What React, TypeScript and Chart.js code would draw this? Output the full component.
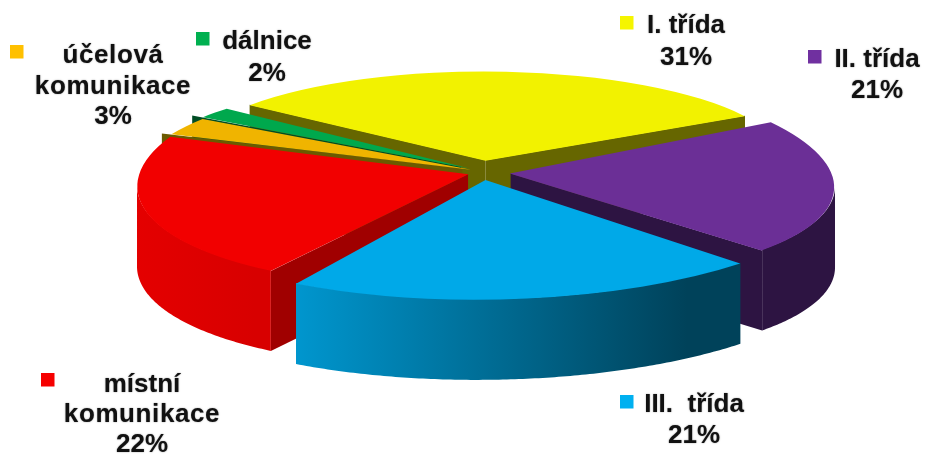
import React, { useEffect, useRef } from "react";
import { Chart, registerables } from "chart.js";

Chart.register(...registerables);

const categories = ["I. třída", "II. třída", "III. třída", "místní komunikace", "účelová komunikace", "dálnice"];
const values = [31, 21, 21, 22, 3, 2];

const topColors = ["#F2F200", "#6B2F96", "#00A9E8", "#F20000", "#F0B400", "#00A84D"];
const markerColors = ["#F5F500", "#7030A0", "#00B0F0", "#F60000", "#FFC000", "#00B050"];
const cutColors = ["#666600", "#2D1442", "#004A64", "#A00000", "#6B5A00", "#004D24"];
const wallLeft = ["#666600", "#2D1442", "#0096CE", "#E40000", "#6B5A00", "#004D24"];
const wallRight = ["#666600", "#2D1442", "#00425A", "#D80000", "#6B5A00", "#004D24"];
const explode = [72, 64, 68, 40, 30, 34];
const drawOrder = [0, 5, 4, 1, 3, 2];

// label layout: lines, centre x, baselines, marker box, letter spacing
const labelLayout = [
  { lines: ["I. třída", "31%"], x: 686, y: [33, 65], mx: 620, my: 16, sp: [0, 0] },
  { lines: ["II. třída", "21%"], x: 877, y: [67, 98], mx: 808, my: 50, sp: [0, 0] },
  { lines: ["III.  třída", "21%"], x: 694, y: [412, 443], mx: 620, my: 395, sp: [0, 0] },
  { lines: ["místní", "komunikace", "22%"], x: 142, y: [392, 422, 452], mx: 41, my: 373, sp: [0, 0.6, 0] },
  { lines: ["účelová", "komunikace", "3%"], x: 113, y: [63, 94, 124], mx: 10, my: 45, sp: [0.6, 0.6, 0] },
  { lines: ["dálnice", "2%"], x: 267, y: [49, 81], mx: 196, my: 32, sp: [0, 0] },
];

// camera of the tilted disc
const VIEW = { cx: 483, cy: 171.5, ax: 323, sx: -25, ay: 102, sy: 7.5, persp: 0.129, depth: 80 };

function project(X: number, Y: number) {
  const w = 1 - VIEW.persp * Y;
  return {
    x: VIEW.cx + (VIEW.ax * X + VIEW.sx * Y) / w,
    y: VIEW.cy + (VIEW.sy * X + VIEW.ay * Y) / w,
  };
}

function solve3(A: number[][], b: number[]) {
  const M = A.map((row, i) => [...row, b[i]]);
  for (let c = 0; c < 3; c++) {
    let piv = c;
    for (let r = c + 1; r < 3; r++) if (Math.abs(M[r][c]) > Math.abs(M[piv][c])) piv = r;
    [M[c], M[piv]] = [M[piv], M[c]];
    for (let r = 0; r < 3; r++) {
      if (r === c) continue;
      const f = M[r][c] / M[c][c];
      for (let k = c; k < 4; k++) M[r][k] -= f * M[c][k];
    }
  }
  return [M[0][3] / M[0][0], M[1][3] / M[1][1], M[2][3] / M[2][2]];
}

// least-squares affine map between the slice's chart-space points and their projection
function fitAffine(src: any[], dst: any[]) {
  const A = [[0, 0, 0], [0, 0, 0], [0, 0, 0]];
  const bx = [0, 0, 0];
  const by = [0, 0, 0];
  src.forEach((p, n) => {
    const v = [p.x, p.y, 1];
    for (let r = 0; r < 3; r++) {
      for (let c = 0; c < 3; c++) A[r][c] += v[r] * v[c];
      bx[r] += v[r] * dst[n].x;
      by[r] += v[r] * dst[n].y;
    }
  });
  const [a, c, e] = solve3(A, bx);
  const [b, d, f] = solve3(A, by);
  return { a, b, c, d, e, f };
}

const pie3dPlugin = {
  id: "pie3d",
  beforeDatasetDraw(chart: any, args: any) {
    const ctx = chart.ctx;
    const meta = chart.getDatasetMeta(args.index);
    for (const i of drawOrder) {
      const el = meta.data[i];
      const { x, y, startAngle, endAngle, outerRadius: r, circumference } = el;
      const off = (el.options.offset || 0) / 4;
      const fix = 1 - Math.sin(Math.min(Math.PI, circumference));
      const mid = (startAngle + endAngle) / 2;
      const shift = off * (1 + fix);
      const R = r + off * fix;
      const ox = x + Math.cos(mid) * shift;
      const oy = y + Math.sin(mid) * shift;
      const at = (t: number) => ({ x: ox + Math.cos(t) * R, y: oy + Math.sin(t) * R });
      const toScreen = (p: any) => project((p.x - x) / r, (p.y - y) / r);

      const tipW = { x: ox, y: oy };
      const src = [tipW, at(startAngle), at(mid), at(endAngle)];
      const m = fitAffine(src, src.map(toScreen));
      const map = (p: any) => ({ x: m.a * p.x + m.c * p.y + m.e, y: m.b * p.x + m.d * p.y + m.f });

      const D = VIEW.depth;
      const tip = map(tipW);
      const s0 = map(at(startAngle));
      const s1 = map(at(endAngle));
      const rimMid = map(at(mid));
      const face = (p: any, q: any, other: any) => {
        // only edges with the slice's top lying above them show a cut face
        const lineY = p.y + ((q.y - p.y) * (other.x - p.x)) / (q.x - p.x);
        if (other.y > lineY) return;
        ctx.beginPath();
        ctx.moveTo(p.x, p.y);
        ctx.lineTo(q.x, q.y);
        ctx.lineTo(q.x, q.y + D);
        ctx.lineTo(p.x, p.y + D);
        ctx.closePath();
        ctx.fillStyle = cutColors[i];
        ctx.fill();
      };
      face(tip, s0, rimMid);
      face(tip, s1, rimMid);

      // outer wall: the part of the rim that runs leftwards on screen faces the viewer
      const rim: any[] = [];
      const steps = 120;
      const span = endAngle - startAngle;
      for (let k = 0; k <= steps; k++) {
        const t = startAngle + (span * k) / steps;
        if (map(at(t + 0.001)).x < map(at(t)).x) rim.push(map(at(t)));
      }
      if (rim.length > 1) {
        const xs = rim.map((p) => p.x);
        const grad = ctx.createLinearGradient(Math.min(...xs), 0, Math.max(...xs), 0);
        grad.addColorStop(0, wallLeft[i]);
        grad.addColorStop(0.88, wallRight[i]);
        grad.addColorStop(1, wallRight[i]);
        ctx.beginPath();
        // the upper edge runs 1px under the top face so no seam shows
        rim.forEach((p, k) => (k ? ctx.lineTo(p.x, p.y - 1) : ctx.moveTo(p.x, p.y - 1)));
        for (let k = rim.length - 1; k >= 0; k--) ctx.lineTo(rim[k].x, rim[k].y + D);
        ctx.closePath();
        ctx.fillStyle = grad;
        ctx.fill();
      }

      ctx.save();
      ctx.transform(m.a, m.b, m.c, m.d, m.e, m.f);
      el.draw(ctx);
      ctx.restore();
    }
    return false;
  },
  afterDatasetsDraw(chart: any) {
    const ctx = chart.ctx;
    ctx.save();
    ctx.textAlign = "center";
    ctx.textBaseline = "alphabetic";
    ctx.font = 'bold 26px "Liberation Sans", Arial, sans-serif';
    labelLayout.forEach((l, i) => {
      ctx.fillStyle = markerColors[i];
      ctx.fillRect(l.mx, l.my, 13.5, 13.5);
      ctx.fillStyle = "#111111";
      ctx.shadowColor = "rgba(0,0,0,0.45)";
      ctx.shadowBlur = 1.5;
      l.lines.forEach((t, k) => {
        (ctx as any).letterSpacing = l.sp[k] + "px";
        ctx.fillText(t, l.x, l.y[k]);
      });
      ctx.shadowBlur = 0;
      ctx.shadowColor = "transparent";
      (ctx as any).letterSpacing = "0px";
    });
    ctx.restore();
  },
};

export default function App() {
  const ref = useRef<HTMLCanvasElement>(null);
  useEffect(() => {
    const chart = new Chart(ref.current as HTMLCanvasElement, {
      type: "pie",
      data: {
        labels: categories,
        datasets: [
          {
            data: values,
            backgroundColor: topColors,
            borderWidth: 0,
            offset: explode,
            hoverOffset: 0,
          } as any,
        ],
      },
      options: {
        responsive: false,
        animation: false,
        rotation: -56,
        layout: { padding: 0 },
        events: [],
        plugins: { legend: { display: false }, tooltip: { enabled: false } },
      },
      plugins: [pie3dPlugin as any],
    });
    return () => chart.destroy();
  }, []);
  return (
    <div style={{ position: "fixed", left: 0, top: 0, width: 925, height: 454, background: "#fff" }}>
      <canvas ref={ref} width={925} height={454} style={{ display: "block" }} />
    </div>
  );
}
